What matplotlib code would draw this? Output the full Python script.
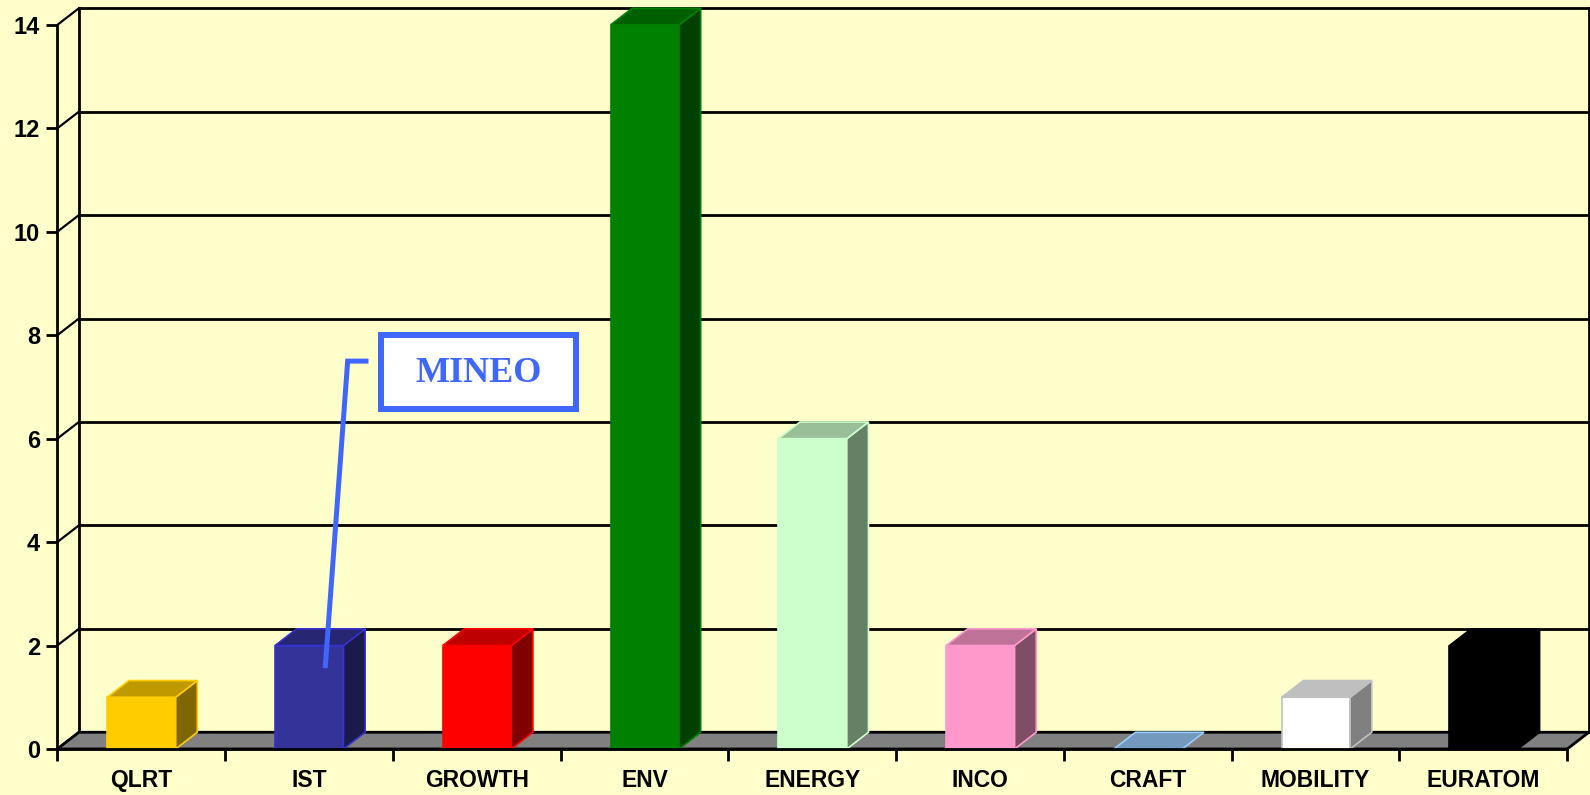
import numpy as np
import matplotlib.pyplot as plt
from matplotlib.colors import to_rgb
from matplotlib.patches import Polygon, Rectangle

# data
categories = ['QLRT', 'IST', 'GROWTH', 'ENV', 'ENERGY', 'INCO', 'CRAFT', 'MOBILITY', 'EURATOM']
values = [1, 2, 2, 14, 6, 2, 0, 1, 2]
colors = ['#FFCC00', '#333399', '#FF0000', '#008000', '#CCFFCC',
          '#FF99CC', '#99CCFF', '#FFFFFF', '#000000']
edges = ['#FFCC00', '#3333CC', '#FF0000', '#008000', '#CCFFCC',
         '#FF99CC', '#99CCFF', '#C0C0C0', '#000000']
yticks = [0, 2, 4, 6, 8, 10, 12, 14]

bg = '#FFFFCC'
dx, dy = 0.129, 0.323       # depth offset (category units, value units)
off, w = 0.298, 0.408       # bar start inside category, bar width


def shade(c, f):
    return tuple(np.array(to_rgb(c)) * f)


fig = plt.figure(figsize=(15.9, 7.95), dpi=100, facecolor=bg)
ax = fig.add_axes([0.0360, 0.0579, 0.9497, 0.9107])
ax.set_facecolor('none')
ax.set_xlim(0, 9)
ax.set_ylim(0, 14)
for s in ax.spines.values():
    s.set_visible(False)

lw = 2.0
n = len(categories)
# back wall gridlines + side wall slants
for v in yticks:
    ax.plot([dx, n + dx], [v + dy, v + dy], color='black', lw=lw, clip_on=False, zorder=1)
    ax.plot([0, dx], [v, v + dy], color='black', lw=lw * 0.8, clip_on=False, zorder=1)
ax.plot([dx, dx], [dy, yticks[-1] + dy], color='black', lw=lw, clip_on=False, zorder=1)
ax.plot([n + dx, n + dx], [dy, yticks[-1] + dy], color='black', lw=lw, clip_on=False, zorder=1)
ax.plot([0, 0], [0, yticks[-1]], color='black', lw=lw, clip_on=False, zorder=1)

# floor
floor = Polygon([(0, 0), (n, 0), (n + dx, dy), (dx, dy)], closed=True,
                facecolor='#808080', edgecolor='black', lw=lw, clip_on=False, zorder=2)
ax.add_patch(floor)

# 3D bars
for i, (v, c, e) in enumerate(zip(values, colors, edges)):
    x0 = i + off
    x1 = x0 + w
    if v > 0:
        ax.add_patch(Polygon([(x0, 0), (x1, 0), (x1, v), (x0, v)], closed=True,
                             facecolor=c, edgecolor=e, lw=1.2, zorder=3))
        ax.add_patch(Polygon([(x1, 0), (x1 + dx, dy), (x1 + dx, v + dy), (x1, v)], closed=True,
                             facecolor=shade(c, 0.5), edgecolor=e, lw=1.2, zorder=3, clip_on=False))
    ax.add_patch(Polygon([(x0, v), (x1, v), (x1 + dx, v + dy), (x0 + dx, v + dy)], closed=True,
                         facecolor=shade(c, 0.75), edgecolor=e, lw=1.2, zorder=3, clip_on=False))

# axes ticks
ax.plot([0, n], [0, 0], color='black', lw=lw, clip_on=False, zorder=4)
ax.set_yticks(yticks)
ax.set_yticklabels([str(t) for t in yticks], fontsize=17, fontweight='bold',
                   family='Liberation Sans')
ax.set_xticks(np.arange(n + 1))
ax.set_xticklabels([])
ax.set_xticks(np.arange(n) + 0.5, minor=True)
ax.set_xticklabels(categories, minor=True, fontsize=16.5, fontweight='bold',
                   family='Liberation Sans')
ax.tick_params(axis='y', length=8, width=2, pad=4.5)
ax.tick_params(axis='x', which='major', length=8.5, width=2)
ax.tick_params(axis='x', which='minor', length=0, pad=14.5)

# MINEO callout
blue = '#3F66FF'
ax.plot([1.598, 1.731, 1.84], [1.61, 7.5, 7.5], color=blue, lw=3.6,
        solid_joinstyle='miter', zorder=5, clip_on=False)
ax.add_patch(Rectangle((1.93, 6.58), 1.16, 1.42, facecolor='white', edgecolor=blue,
                       lw=4.3, zorder=5))
ax.text(2.51, 7.27, 'MINEO', color=blue, fontsize=26, fontweight='bold',
        family='Liberation Serif', ha='center', va='center', zorder=6)

fig.savefig('out.png', dpi=100, facecolor=bg)
